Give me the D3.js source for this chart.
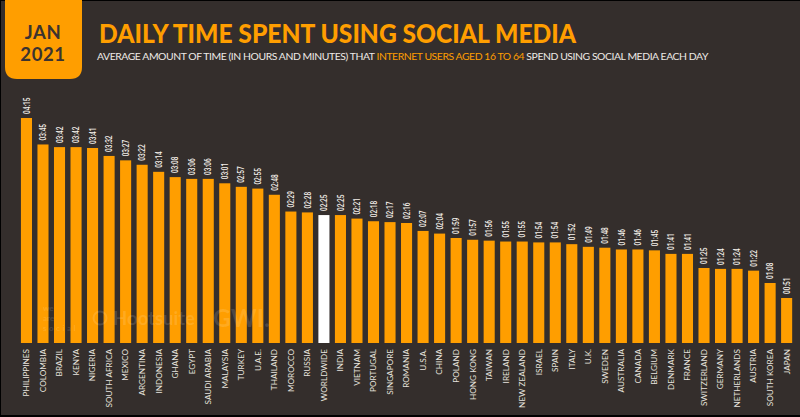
<!DOCTYPE html>
<html>
<head>
<meta charset="utf-8">
<script src="https://cdnjs.cloudflare.com/ajax/libs/d3/7.8.5/d3.min.js"></script>
<style>
html,body{margin:0;padding:0;background:#000;overflow:hidden}
svg{display:block}
</style>
</head>
<body>
<script>
var countries = ["PHILIPPINES","COLOMBIA","BRAZIL","KENYA","NIGERIA","SOUTH AFRICA","MEXICO","ARGENTINA","INDONESIA","GHANA","EGYPT","SAUDI ARABIA","MALAYSIA","TURKEY","U.A.E.","THAILAND","MOROCCO","RUSSIA","WORLDWIDE","INDIA","VIETNAM","PORTUGAL","SINGAPORE","ROMANIA","U.S.A.","CHINA","POLAND","HONG KONG","TAIWAN","IRELAND","NEW ZEALAND","ISRAEL","SPAIN","ITALY","U.K.","SWEDEN","AUSTRALIA","CANADA","BELGIUM","DENMARK","FRANCE","SWITZERLAND","GERMANY","NETHERLANDS","AUSTRIA","SOUTH KOREA","JAPAN"];
var times = ["04:15","03:45","03:42","03:42","03:41","03:32","03:27","03:22","03:14","03:08","03:06","03:06","03:01","02:57","02:55","02:48","02:29","02:28","02:25","02:25","02:21","02:18","02:17","02:16","02:07","02:04","01:59","01:57","01:56","01:55","01:55","01:54","01:54","01:52","01:49","01:48","01:46","01:46","01:45","01:41","01:41","01:25","01:24","01:24","01:22","01:08","00:51"];
var highlight = "WORLDWIDE";

var width = 800, height = 417;
var orange = "#ff9e00", bg = "#342e2c", dark = "#3b3330";
var headFont = "Lato, 'Open Sans', sans-serif";
var valueFont = "Roboto, sans-serif";

function minutes(t) {
	var p = t.split(":");
	return (+p[0])*60 + (+p[1]);
}

var svg = d3.select("body").append("svg").attr("width",width).attr("height",height);

svg.append("rect").attr("x",1).attr("y",1).attr("width",width-1).attr("height",height-3).attr("fill",bg);

// badge
var badge = d3.path();
badge.moveTo(5,0);
badge.lineTo(82,0);
badge.lineTo(82,67);
badge.quadraticCurveTo(82,79,70,79);
badge.lineTo(17,79);
badge.quadraticCurveTo(5,79,5,67);
badge.closePath();
svg.append("path").attr("d",badge.toString()).attr("fill",orange);
svg.append("text").attr("x",43).attr("y",38.5).attr("text-anchor","middle").attr("font-family",headFont).attr("font-weight",700).attr("font-size",18.5).attr("letter-spacing",0.6).attr("fill",dark).text("JAN");
svg.append("text").attr("x",43).attr("y",60.5).attr("text-anchor","middle").attr("font-family",headFont).attr("font-weight",700).attr("font-size",18.5).attr("letter-spacing",0.6).attr("fill",dark).text("2021");

// headings
svg.append("text").attr("x",99).attr("y",43).attr("font-family",headFont).attr("font-weight",900).attr("font-size",26.5)
	.attr("textLength",477).attr("lengthAdjust","spacingAndGlyphs").attr("fill",orange).text("DAILY TIME SPENT USING SOCIAL MEDIA");
var sub = svg.append("text").attr("x",97).attr("y",60).attr("font-family",headFont).attr("font-size",10.4).attr("fill","#eeeae6");
sub.append("tspan").text("AVERAGE AMOUNT OF TIME (IN HOURS AND MINUTES) THAT ");
sub.append("tspan").attr("fill",orange).text("INTERNET USERS AGED 16 TO 64");
sub.append("tspan").text(" SPEND USING SOCIAL MEDIA EACH DAY");
// fit to the reference width with letter spacing
var subLen = sub.node().getComputedTextLength();
sub.attr("letter-spacing",(611-subLen)/sub.text().length);

// chart
var x = d3.scaleBand().domain(countries).range([18.2,794.9]).paddingInner(0.33).paddingOuter(0.165);
var y = d3.scaleLinear().domain([0,255]).range([343,118]);

svg.selectAll("rect.bar").data(countries).enter().append("rect").attr("class","bar")
	.attr("x",function(d){return x(d);})
	.attr("width",x.bandwidth())
	.attr("y",function(d,i){return y(minutes(times[i]));})
	.attr("height",function(d,i){return y(0)-y(minutes(times[i]));})
	.attr("fill",function(d){return d==highlight ? "#ffffff" : orange;});

svg.selectAll("text.val").data(countries).enter().append("text").attr("class","val")
	.attr("transform",function(d,i){return "translate("+(x(d)+x.bandwidth()/2+3.2)+","+(y(minutes(times[i]))-4)+") rotate(-90)";})
	.attr("font-family",valueFont).attr("font-weight",500).attr("font-size",9.2).attr("fill","#f4f0ea")
	.attr("textLength",16.5).attr("lengthAdjust","spacingAndGlyphs")
	.text(function(d,i){return times[i];});

var xAxis = svg.append("g").attr("transform","translate(0,349)")
	.call(d3.axisBottom(x).tickSize(0).tickPadding(0));
xAxis.select(".domain").remove();
xAxis.selectAll("text")
	.attr("transform","rotate(-90)")
	.attr("text-anchor","end")
	.attr("x",0).attr("y",0).attr("dy","0.35em")
	.attr("font-family",headFont).attr("font-size",8.2).attr("fill","#e8e4df");

// watermark, faint over the bars
var wm = svg.append("g").attr("font-family",headFont).attr("font-weight",700).attr("fill","#ffffff").attr("fill-opacity",0.13);
wm.append("text").attr("x",43).attr("y",311).attr("font-size",8).text("we");
wm.append("text").attr("x",43).attr("y",321).attr("font-size",8).text("are");
wm.append("text").attr("x",43).attr("y",331).attr("font-size",8).attr("letter-spacing",2.5).text("social");
wm.append("circle").attr("cx",100).attr("cy",318).attr("r",6.5).attr("fill","none").attr("stroke","#ffffff").attr("stroke-opacity",0.13).attr("stroke-width",2);
wm.append("text").attr("x",113).attr("y",325).attr("font-size",19).attr("textLength",82).attr("lengthAdjust","spacingAndGlyphs").text("Hootsuite");
wm.append("text").attr("x",213).attr("y",327).attr("font-size",24).attr("textLength",57).attr("lengthAdjust","spacingAndGlyphs").text("GWI.");
</script>
</body>
</html>
